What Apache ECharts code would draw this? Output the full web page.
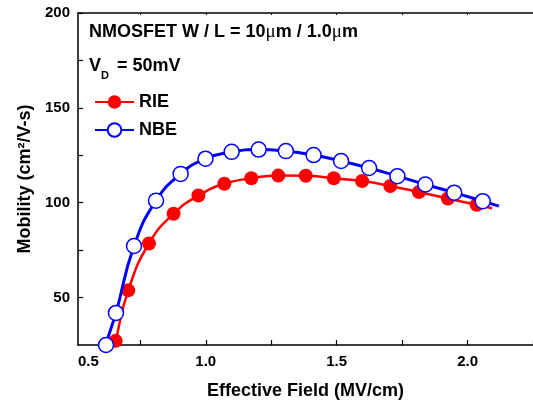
<!DOCTYPE html>
<html>
<head>
<meta charset="utf-8">
<script src="https://cdn.jsdelivr.net/npm/echarts@6/dist/echarts.min.js"></script>
<style>
html,body{margin:0;padding:0;background:#fff;}
#c{width:533px;height:405px;}
</style>
</head>
<body>
<div id="c"></div>
<script>
// ---- data ----
const rieField = [0.656, 0.704, 0.783, 0.877, 0.972, 1.071, 1.174, 1.277, 1.382, 1.489, 1.597, 1.705, 1.814, 1.925, 2.035];
const rieMobility = [27.2, 53.8, 78.5, 94.2, 103.8, 110.0, 112.9, 114.3, 114.2, 112.9, 111.4, 108.8, 105.6, 102.2, 98.9];
const rieFitStart = [0.632, 12];
const rieFitEnd = [2.094, 97.1];

const nbeField = [0.619, 0.657, 0.726, 0.810, 0.904, 0.999, 1.099, 1.202, 1.306, 1.412, 1.517, 1.624, 1.732, 1.839, 1.949, 2.058];
const nbeMobility = [25.0, 41.9, 77.2, 101.1, 115.2, 123.2, 126.8, 128.0, 127.2, 125.1, 122.0, 118.3, 114.0, 109.6, 105.3, 100.8];
const nbeFitStart = [0.600, 10];
const nbeFitEnd = [2.120, 98.2];

const xLabelValues = [0.5, 1.0, 1.5, 2.0];
const xTickValues = [0.75, 1.0, 1.25, 1.5, 1.75, 2.0, 2.25];
const yLabelValues = [50, 100, 150, 200];
const yTickValues = [50, 75, 100, 125, 150, 175, 200];

const X_MIN = 0.512, X_MAX = 2.25, Y_MIN = 25, Y_MAX = 200;

function build(fieldArr, mobArr, start, end) {
  const d = [{value: start, symbol: 'none'}];
  for (let i = 0; i < fieldArr.length; i++) d.push([fieldArr[i], mobArr[i]]);
  d.push({value: end, symbol: 'none'});
  return d;
}

const FONT = '"Liberation Sans", Arial, sans-serif';
const chart = echarts.init(document.getElementById('c'), null, {renderer: 'canvas'});

const axisLineStyle = {color: '#000', width: 1.5};

chart.setOption({
  animation: false,
  backgroundColor: '#fff',
  textStyle: {fontFamily: FONT},
  grid: {left: 78, top: 13, width: 456, height: 336, containLabel: false},
  legend: {
    left: 89, top: 88, orient: 'vertical',
    itemWidth: 39, itemHeight: 17, itemGap: 10,
    textStyle: {fontFamily: FONT, fontWeight: 'bold', fontSize: 18, color: '#000'},
    data: ['RIE', 'NBE']
  },
  xAxis: [{
    type: 'value', min: X_MIN, max: X_MAX, position: 'bottom',
    name: 'Effective Field (MV/cm)', nameLocation: 'middle', nameGap: 37,
    nameTextStyle: {fontFamily: FONT, fontWeight: 'bold', fontSize: 18, color: '#000'},
    axisLine: {show: true, onZero: false, lineStyle: axisLineStyle},
    axisTick: {show: true, inside: true, length: 5, customValues: xTickValues, lineStyle: {color: '#000', width: 1.2}},
    axisLabel: {
      show: true, margin: 9, fontFamily: FONT, fontWeight: 'bold', fontSize: 15, color: '#000',
      customValues: xLabelValues.map(v => Math.max(v, X_MIN)),
      alignMinLabel: 'left',
      formatter: v => (Math.round(v * 2) / 2).toFixed(1)
    },
    splitLine: {show: false}
  }, {
    type: 'value', min: X_MIN, max: X_MAX, position: 'top',
    axisLine: {show: true, onZero: false, lineStyle: axisLineStyle},
    axisTick: {show: true, inside: true, length: 2, customValues: xTickValues, lineStyle: {color: '#000', width: 1}},
    axisLabel: {show: false},
    splitLine: {show: false}
  }],
  yAxis: [{
    type: 'value', min: Y_MIN, max: Y_MAX,
    name: 'Mobility (cm²/V-s)', nameLocation: 'middle', nameGap: 42,
    nameTextStyle: {fontFamily: FONT, fontWeight: 'bold', fontSize: 18, color: '#000'},
    axisLine: {show: true, onZero: false, lineStyle: axisLineStyle},
    axisTick: {show: true, inside: true, length: 5, customValues: yTickValues, lineStyle: {color: '#000', width: 1.2}},
    axisLabel: {show: true, margin: 8, fontFamily: FONT, fontWeight: 'bold', fontSize: 15, color: '#000', customValues: yLabelValues},
    splitLine: {show: false}
  }],
  graphic: [
    {type: 'text', left: 89, top: 23, style: {
      text: '{b|NMOSFET W / L = 10}{u|μ}{b|m / 1.0}{u|μ}{b|m}',
      rich: {
        b: {fontFamily: FONT, fontWeight: 'bold', fontSize: 18, fill: '#000'},
        u: {fontFamily: '"Liberation Serif", serif', fontWeight: 'normal', fontSize: 19, fill: '#000'}
      }
    }},
    {type: 'text', left: 89, top: 57, style: {text: 'V', font: 'bold 18px ' + FONT, fill: '#000'}},
    {type: 'text', left: 101, top: 70, style: {text: 'D', font: 'bold 11px ' + FONT, fill: '#000'}},
    {type: 'text', left: 117, top: 57, style: {text: '= 50mV', font: 'bold 18px ' + FONT, fill: '#000'}}
  ],
  series: [{
    name: 'RIE', type: 'line', smooth: 0.5, clip: true,
    data: build(rieField, rieMobility, rieFitStart, rieFitEnd),
    symbol: 'circle', symbolSize: 14,
    lineStyle: {color: '#ff0000', width: 2.5},
    itemStyle: {color: '#ff0000', borderWidth: 0},
    z: 3
  }, {
    name: 'NBE', type: 'line', smooth: 0.5, clip: true,
    data: build(nbeField, nbeMobility, nbeFitStart, nbeFitEnd),
    symbol: 'circle', symbolSize: 15,
    lineStyle: {color: '#0000ff', width: 3},
    itemStyle: {color: '#ffffff', borderColor: '#0000ff', borderWidth: 1.5},
    z: 4
  }]
});
</script>
</body>
</html>
